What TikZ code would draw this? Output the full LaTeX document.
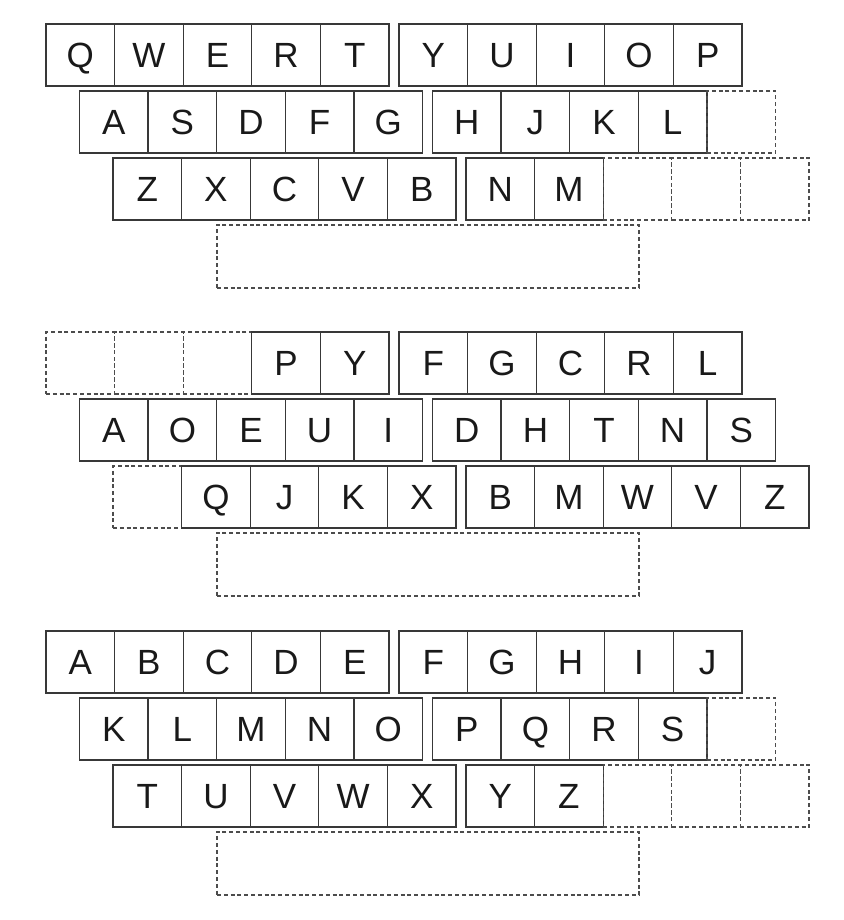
\documentclass[tikz,border=0pt]{standalone}
\usepackage{fontspec}
\setmainfont{Liberation Sans}
\newcommand{\kx}[2]{46+(#1-1)*33.5+(#2-0.5)*68.6+10*(#2>5)}
\newcommand{\ky}[2]{#1+(#2-1)*67+31}

\begin{document}
\begin{tikzpicture}[
  x=0.5pt,y=-0.5pt,
  key/.style={draw=black!78,line width=0.65pt,minimum width=34.3pt,minimum height=31pt,inner sep=0pt,
    text height=12.5pt,text depth=0pt,font=\fontsize{17.5}{17.5}\selectfont,text=black!90},
  blank/.style={draw=black!70,line width=0.65pt,dash pattern=on 2pt off 1.4pt,minimum width=34.3pt,minimum height=31pt,inner sep=0pt},
  spacebar/.style={blank,minimum width=211pt,minimum height=31.5pt}
]
\useasboundingbox (0,0) rectangle (844,920);
\foreach \t [count=\c] in {Q,W,E,R,T,Y,U,I,O,P}
  \node[key] (qw-1-\c) at ({\kx{1}{\c}},{\ky{24}{1}}) {\t};
\foreach \t [count=\c] in {A,S,D,F,G,H,J,K,L}
  \node[key] (qw-2-\c) at ({\kx{2}{\c}},{\ky{24}{2}}) {\t};
\foreach \t [count=\c] in {Z,X,C,V,B,N,M}
  \node[key] (qw-3-\c) at ({\kx{3}{\c}},{\ky{24}{3}}) {\t};
\node[blank] (qw-2-10) at ({\kx{2}{10}},{\ky{24}{2}}) {};
\foreach \c in {8,9,10}
  \node[blank] (qw-3-\c) at ({\kx{3}{\c}},{\ky{24}{3}}) {};
\node[spacebar] (qw-space) at (428,256.5) {};

\foreach \c in {1,2,3}
  \node[blank] (dv-1-\c) at ({\kx{1}{\c}},{\ky{332}{1}}) {};
\foreach \t [count=\c from 4] in {P,Y,F,G,C,R,L}
  \node[key] (dv-1-\c) at ({\kx{1}{\c}},{\ky{332}{1}}) {\t};
\foreach \t [count=\c] in {A,O,E,U,I,D,H,T,N,S}
  \node[key] (dv-2-\c) at ({\kx{2}{\c}},{\ky{332}{2}}) {\t};
\node[blank] (dv-3-1) at ({\kx{3}{1}},{\ky{332}{3}}) {};
\foreach \t [count=\c from 2] in {Q,J,K,X,B,M,W,V,Z}
  \node[key] (dv-3-\c) at ({\kx{3}{\c}},{\ky{332}{3}}) {\t};
\node[spacebar] (dv-space) at (428,564.5) {};

\foreach \t [count=\c] in {A,B,C,D,E,F,G,H,I,J}
  \node[key] (ab-1-\c) at ({\kx{1}{\c}},{\ky{631}{1}}) {\t};
\foreach \t [count=\c] in {K,L,M,N,O,P,Q,R,S}
  \node[key] (ab-2-\c) at ({\kx{2}{\c}},{\ky{631}{2}}) {\t};
\foreach \t [count=\c] in {T,U,V,W,X,Y,Z}
  \node[key] (ab-3-\c) at ({\kx{3}{\c}},{\ky{631}{3}}) {\t};
\node[blank] (ab-2-10) at ({\kx{2}{10}},{\ky{631}{2}}) {};
\foreach \c in {8,9,10}
  \node[blank] (ab-3-\c) at ({\kx{3}{\c}},{\ky{631}{3}}) {};
\node[spacebar] (ab-space) at (428,863.5) {};
\end{tikzpicture}
\end{document}
